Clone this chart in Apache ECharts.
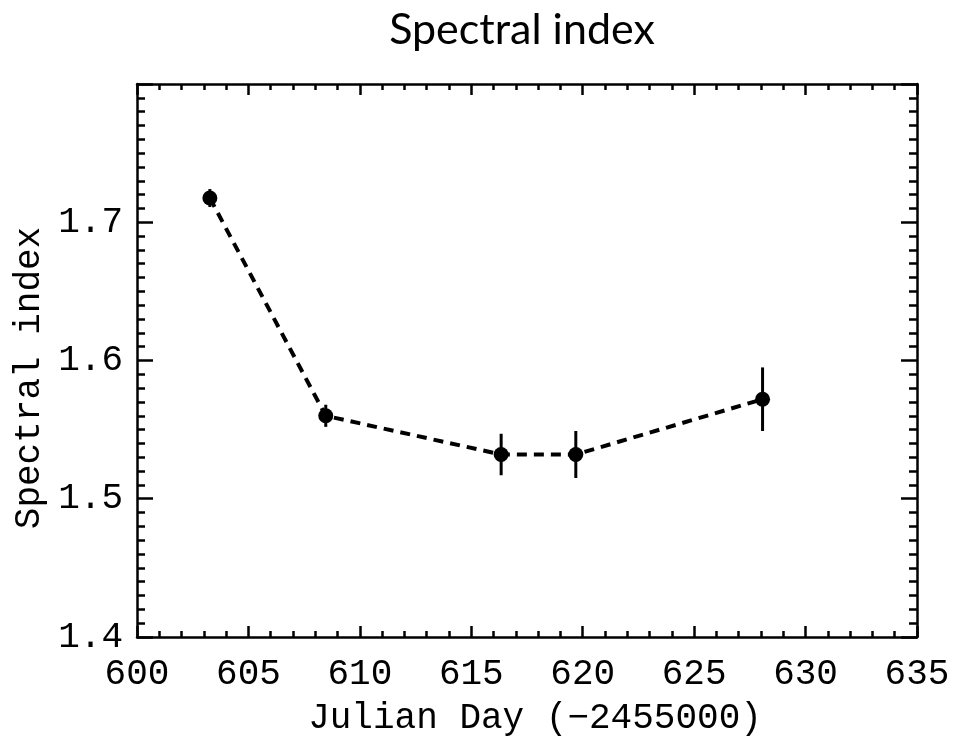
<!DOCTYPE html>
<html>
<head>
<meta charset="utf-8">
<script src="https://cdn.jsdelivr.net/npm/echarts@6/dist/echarts.min.js"></script>
<style>html,body{margin:0;padding:0;background:#fff;}#c{width:953px;height:739px;}</style>
</head>
<body>
<div id="c"></div>
<script>
// Data
var days = [603.27, 608.47, 616.34, 619.69, 628.07];
var index = [1.7175, 1.560, 1.532, 1.532, 1.572];
var err = [0.0065, 0.008, 0.015, 0.017, 0.023];
var titleText = 'Spectral index';
var xName = 'Julian Day (\u22122455000)';
var yName = 'Spectral index';
var hiddenYLabels = [1.8];

var chart = echarts.init(document.getElementById('c'));
var mono = 'Liberation Mono';
var pts = days.map(function (d, i) { return [d, index[i]]; });
var errData = days.map(function (d, i) { return [d, index[i], err[i]]; });

var common = {
  axisLine: {show: true, onZero: false, lineStyle: {color: '#000', width: 2.5}},
  splitLine: {show: false}
};
function xAx(pos, showLabel) {
  return Object.assign({}, common, {
    type: 'value', position: pos, min: 600, max: 635, interval: 5,
    axisTick: {show: true, inside: true, length: 11, lineStyle: {color: '#000', width: 2.5}},
    minorTick: {show: true, splitNumber: 5, length: 6, lineStyle: {color: '#000', width: 2.5}},
    axisLabel: {show: showLabel, color: '#000', fontFamily: mono, fontSize: 36, margin: 19}
  });
}
function yAx(pos, showLabel) {
  return Object.assign({}, common, {
    type: 'value', position: pos, min: 1.4, max: 1.8, interval: 0.1,
    axisTick: {show: true, inside: true, length: 16, lineStyle: {color: '#000', width: 2.5}},
    minorTick: {show: true, splitNumber: 10, length: 8, lineStyle: {color: '#000', width: 2.5}},
    axisLabel: {show: showLabel, color: '#000', fontFamily: mono, fontSize: 36, margin: 14,
      formatter: function (v) {
        var r = Math.round(v * 10) / 10;
        return hiddenYLabels.indexOf(r) >= 0 ? '' : r.toFixed(1);
      }}
  });
}

chart.setOption({
  animation: false,
  backgroundColor: '#fff',
  grid: {left: 137, right: 36, top: 84, bottom: 102, containLabel: false},
  xAxis: [xAx('bottom', true), xAx('top', false)],
  yAxis: [yAx('left', true), yAx('right', false)],
  graphic: [
    {type: 'text', x: 522, y: 30, style: {text: titleText, font: '43px Lato', fill: '#000', textAlign: 'center', textVerticalAlign: 'middle'}},
    {type: 'text', x: 535, y: 718, style: {text: xName, font: '36px "Liberation Mono"', fill: '#000', textAlign: 'center', textVerticalAlign: 'middle'}},
    {type: 'text', x: 29, y: 378, rotation: Math.PI / 2, style: {text: yName, font: '36px "Liberation Mono"', fill: '#000', textAlign: 'center', textVerticalAlign: 'middle'}}
  ],
  series: [
    {
      type: 'line', data: pts, xAxisIndex: 0, yAxisIndex: 0,
      lineStyle: {color: '#000', width: 4, type: [10, 7]},
      symbol: 'circle', symbolSize: 15, itemStyle: {color: '#000'}, z: 3
    },
    {
      type: 'custom', xAxisIndex: 0, yAxisIndex: 0, data: errData, z: 4,
      renderItem: function (params, api) {
        var x = api.value(0), y = api.value(1), e = api.value(2);
        var p1 = api.coord([x, y - e]);
        var p2 = api.coord([x, y + e]);
        return {type: 'line', shape: {x1: p1[0], y1: p1[1], x2: p2[0], y2: p2[1]},
          style: {stroke: '#000', lineWidth: 3}};
      }
    }
  ]
});
</script>
</body>
</html>
